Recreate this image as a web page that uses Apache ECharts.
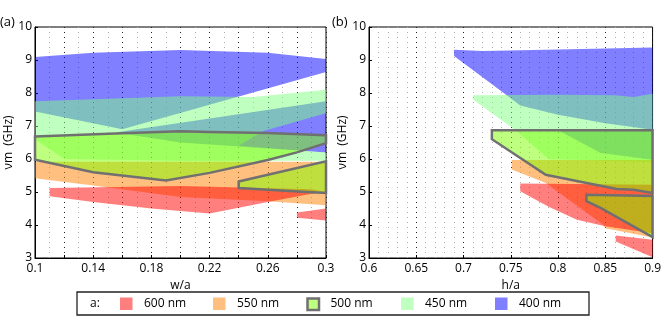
<!DOCTYPE html>
<html>
<head>
<meta charset="utf-8">
<script src="https://cdn.jsdelivr.net/npm/echarts@6/dist/echarts.min.js"></script>
<style>
  html, body { margin: 0; padding: 0; background: #fff; }
  #chart { width: 664px; height: 325px; }
</style>
</head>
<body>
<div id="chart"></div>
<script>
// ---- panel (a): w/a vs frequency, every region is a list of [w/a, GHz] vertices ----
var a400 = [[[0.1, 9.09], [0.14, 9.22], [0.2, 9.3], [0.26, 9.22], [0.3, 9.03], [0.3, 8.64], [0.16, 6.9], [0.1, 7.44]],
            [[0.155, 6.8], [0.3, 7.75], [0.3, 6.2], [0.2, 6.5]]];
var a450 = [[[0.1, 7.75], [0.2, 7.9], [0.25, 7.88], [0.3, 8.1], [0.3, 7.39], [0.257, 6.85], [0.24, 6.4], [0.3, 6.2],
             [0.3, 5.95], [0.2, 5.95], [0.12, 6.0], [0.1, 6.6]]];
var a550 = [[[0.1, 5.92], [0.3, 5.92], [0.3, 4.6], [0.26, 4.72], [0.2, 4.85], [0.14, 5.2], [0.1, 5.42]]];
var a600 = [[[0.11, 5.12], [0.2, 5.18], [0.29, 5.08], [0.3, 5.0], [0.29, 4.95], [0.26, 4.7], [0.22, 4.35], [0.18, 4.5], [0.14, 4.7], [0.11, 4.87]],
            [[0.28, 4.38], [0.3, 4.5], [0.3, 4.14], [0.28, 4.22]]];
var a500 = [[[0.1, 6.68], [0.16, 6.78], [0.2, 6.84], [0.22, 6.82], [0.26, 6.79], [0.3, 6.72], [0.3, 6.48], [0.28, 6.2],
             [0.26, 5.97], [0.22, 5.58], [0.19, 5.35], [0.14, 5.6], [0.1, 5.98]],
            [[0.24, 5.32], [0.3, 5.93], [0.3, 4.97], [0.29, 4.99], [0.26, 5.07], [0.24, 5.12]]];

// ---- panel (b): h/a vs frequency ----
var b400 = [[[0.69, 9.31], [0.72, 9.27], [0.8, 9.32], [0.9, 9.38], [0.9, 6.89], [0.85, 7.08], [0.8, 7.34], [0.76, 7.62], [0.745, 7.95], [0.69, 9.12]],
            [[0.8, 6.87], [0.9, 6.87], [0.9, 5.98], [0.845, 6.18]]];
var b450 = [[[0.71, 7.93], [0.8, 7.95], [0.86, 7.93], [0.88, 7.88], [0.9, 7.98], [0.9, 5.9], [0.79, 6.0], [0.755, 6.87], [0.71, 7.8]]];
var b550 = [[[0.751, 5.97], [0.9, 5.97], [0.9, 3.62], [0.85, 3.9], [0.848, 4.0], [0.787, 5.27], [0.751, 5.68]]];
var b600 = [[[0.76, 5.26], [0.9, 5.22], [0.9, 3.75], [0.85, 3.96], [0.82, 4.16], [0.79, 4.55], [0.76, 5.02]],
            [[0.861, 3.68], [0.9, 3.55], [0.9, 3.02], [0.861, 3.5]]];
var b500 = [[[0.73, 6.87], [0.9, 6.87], [0.9, 4.97], [0.88, 5.07], [0.862, 5.09], [0.8, 5.45], [0.787, 5.52], [0.73, 6.6]],
            [[0.83, 4.92], [0.9, 4.88], [0.9, 3.63], [0.845, 4.52], [0.83, 4.72]]];

var xTicksA = [0.1, 0.3, 0.02];   // min, max, step
var xTicksB = [0.6, 0.9, 0.05];
var yTicks = [3, 10, 1];
var legendNames = ['600 nm', '550 nm', '500 nm', '450 nm', '400 nm'];

var FONT = 'Open Sans';
var fills = {
    '600 nm': 'rgba(255,0,0,0.5)',
    '550 nm': 'rgba(255,128,0,0.5)',
    '500 nm': 'rgba(128,255,0,0.5)',
    '450 nm': 'rgba(128,255,128,0.5)',
    '400 nm': 'rgba(0,0,255,0.5)'
};
var EDGE = '#707070';

function region(name, polys, idx) {
    var border = name === '500 nm';
    return {
        type: 'custom',
        name: name,
        xAxisIndex: idx,
        yAxisIndex: idx,
        silent: true,
        data: polys.map(function (p) { return p[0]; }),
        renderItem: function (params, api) {
            var pts = polys[params.dataIndex].map(function (p) { return api.coord(p); });
            return {
                type: 'polygon',
                shape: { points: pts },
                style: {
                    fill: fills[name],
                    stroke: border ? EDGE : null,
                    lineWidth: border ? 2.5 : 0
                }
            };
        }
    };
}

function xAxis(idx, t, name, minorSplit) {
    return {
        type: 'value', gridIndex: idx, min: t[0], max: t[1], interval: t[2],
        name: name, nameLocation: 'middle', nameGap: 22,
        nameTextStyle: { color: '#000', fontSize: 12, fontFamily: FONT },
        axisLine: { show: true, lineStyle: { color: '#000', width: 1 } },
        axisTick: { show: true, inside: true, length: 3, lineStyle: { color: '#000' } },
        axisLabel: {
            color: '#000', fontSize: 12, fontFamily: FONT, margin: 5,
            formatter: function (v) {
                if (idx === 0 && Math.round(v * 100) % 4 !== 2) return '';
                return String(+v.toFixed(2));
            }
        },
        splitLine: { show: true, lineStyle: { color: '#222', width: 1, type: [1, 4] } },
        minorTick: { show: true, splitNumber: minorSplit, length: 0 },
        minorSplitLine: { show: true, lineStyle: { color: '#aaa', width: 1, type: [1, 4] } }
    };
}

function yAxis(idx) {
    return {
        type: 'value', gridIndex: idx, min: yTicks[0], max: yTicks[1], interval: yTicks[2],
        name: 'νm  (GHz)', nameLocation: 'middle', nameGap: 19,
        nameTextStyle: { color: '#000', fontSize: 12, fontFamily: FONT },
        axisLine: { show: true, lineStyle: { color: '#000', width: 1 } },
        axisTick: { show: true, inside: true, length: 3, lineStyle: { color: '#000' } },
        axisLabel: { color: '#000', fontSize: 12, fontFamily: FONT, margin: 3 },
        splitLine: { show: false }
    };
}

var series = [
    region('400 nm', a400, 0), region('450 nm', a450, 0), region('550 nm', a550, 0),
    region('600 nm', a600, 0), region('500 nm', a500, 0),
    region('400 nm', b400, 1), region('450 nm', b450, 1), region('550 nm', b550, 1),
    region('600 nm', b600, 1), region('500 nm', b500, 1)
];

// legend drawn by hand: box, "a:" and five swatches
var swatchX = [120, 213, 306.5, 401, 495];
var legendItems = [
    { type: 'rect', shape: { x: 77, y: 292, width: 512, height: 23 }, style: { fill: '#fff', stroke: '#222', lineWidth: 1.3 } },
    { type: 'text', x: 90, y: 303.5, style: { text: 'a:', fill: '#000', font: '12px ' + FONT, textVerticalAlign: 'middle' } }
];
legendNames.forEach(function (n, i) {
    var b = n === '500 nm';
    legendItems.push({
        type: 'rect',
        shape: { x: swatchX[i] + (b ? 1 : 0), y: 297.5 + (b ? 1 : 0), width: b ? 11.5 : 12.5, height: b ? 11.5 : 12.5 },
        style: { fill: fills[n], stroke: b ? EDGE : null, lineWidth: b ? 2.5 : 0 }
    });
    legendItems.push({
        type: 'text', x: swatchX[i] + 24, y: 303.5,
        style: { text: n, fill: '#000', font: '12px ' + FONT, textVerticalAlign: 'middle' }
    });
});

var chart = echarts.init(document.getElementById('chart'), null, { renderer: 'canvas' });
chart.setOption({
    animation: false,
    backgroundColor: '#fff',
    grid: [
        { left: 35, top: 27, width: 291, height: 231, show: true, borderColor: '#000', borderWidth: 1, backgroundColor: 'transparent' },
        { left: 369, top: 27, width: 291, height: 231, show: true, borderColor: '#000', borderWidth: 1, backgroundColor: 'transparent' }
    ],
    xAxis: [xAxis(0, xTicksA, 'w/a', 2), xAxis(1, xTicksB, 'h/a', 5)],
    yAxis: [yAxis(0), yAxis(1)],
    series: series,
    graphic: [
        { type: 'text', left: 0, top: 16, style: { text: '(a)', fill: '#000', font: '13px ' + FONT } },
        { type: 'text', left: 332, top: 16, style: { text: '(b)', fill: '#000', font: '13px ' + FONT } },
        { type: 'group', children: legendItems }
    ]
});
</script>
</body>
</html>
